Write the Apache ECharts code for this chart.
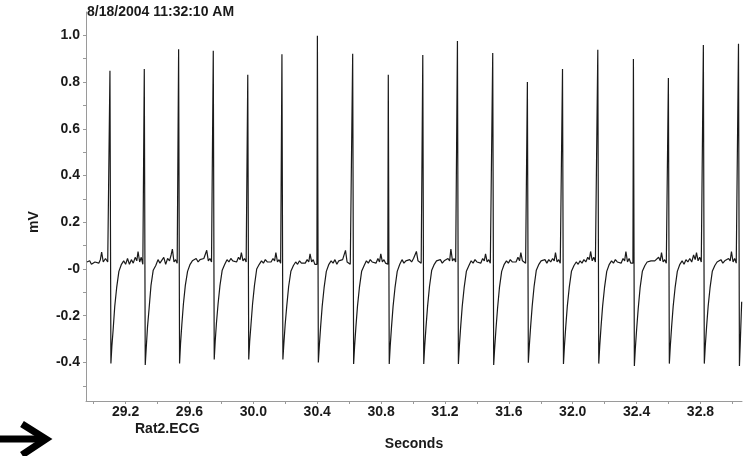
<!DOCTYPE html>
<html>
<head>
<meta charset="utf-8">
<script src="https://cdn.jsdelivr.net/npm/echarts@6/dist/echarts.min.js"></script>
<style>
  html, body { margin: 0; padding: 0; background: #ffffff; }
  #chart { width: 749px; height: 456px; }
</style>
</head>
<body>
<div id="chart"></div>
<script>
// trace before the first R wave: [seconds, mV]
const leadIn = [
  [28.958, 0.03], [28.966, 0.025], [28.975, 0.035], [28.986, 0.02], [28.996, 0.015],
  [29.008, 0.03], [29.02, 0.035], [29.032, 0.025], [29.042, 0.04], [29.05, 0.072],
  [29.06, 0.03], [29.074, 0.045], [29.088, 0.03]
]

// R-wave times (s)
const rPeakTimes = [
  29.102, 29.317, 29.532, 29.749, 29.965, 30.179, 30.401, 30.622, 30.845, 31.061,
  31.278, 31.499, 31.716, 31.936, 32.157, 32.380, 32.599, 32.818, 33.038
]

// sample positions inside one beat, seconds after the R wave
const beatOffsets = [
  -0.003, 0, 0.006, 0.012, 0.020, 0.030, 0.042, 0.056, 0.072, 0.086, 0.098,
  0.110, 0.122, 0.134, 0.146, 0.158, 0.168, 0.176, 0.186, 0.196, 0.206
]

// mV for each beat at those positions (pre, R, S, recovery..., baseline...)
const beatMv = [
  [0.025, 0.849, -0.404, -0.33, -0.26, -0.16, -0.08, -0.01, 0.02, 0.035, 0.02, 0.045, 0.02, 0.04, 0.025, 0.05, 0.035, 0.075, 0.03, 0.05, 0.02],
  [0.02, 0.856, -0.411, -0.34, -0.25, -0.17, -0.07, -0.005, 0.015, 0.04, 0.025, 0.03, 0.05, 0.02, 0.045, 0.035, 0.06, 0.085, 0.03, 0.04, 0.025],
  [0.03, 0.941, -0.404, -0.32, -0.24, -0.15, -0.07, -0.01, 0.02, 0.035, 0.03, 0.045, 0.03, 0.04, 0.035, 0.045, 0.04, 0.08, 0.035, 0.045, 0.03],
  [0.025, 0.934, -0.387, -0.31, -0.23, -0.15, -0.07, -0.005, 0.02, 0.04, 0.03, 0.045, 0.035, 0.04, 0.03, 0.05, 0.04, 0.07, 0.035, 0.045, 0.03],
  [0.03, 0.831, -0.387, -0.31, -0.24, -0.15, -0.07, 0.0, 0.02, 0.035, 0.025, 0.04, 0.03, 0.035, 0.03, 0.045, 0.035, 0.07, 0.03, 0.04, 0.025],
  [0.025, 0.919, -0.387, -0.32, -0.24, -0.16, -0.075, -0.01, 0.015, 0.03, 0.02, 0.035, 0.025, 0.03, 0.025, 0.04, 0.03, 0.065, 0.03, 0.04, 0.02],
  [0.02, 0.998, -0.400, -0.33, -0.25, -0.16, -0.08, -0.01, 0.02, 0.035, 0.025, 0.04, 0.02, 0.035, 0.03, 0.04, 0.035, 0.08, 0.03, 0.035, 0.02],
  [0.025, 0.921, -0.407, -0.33, -0.25, -0.16, -0.08, -0.01, 0.015, 0.035, 0.025, 0.04, 0.03, 0.035, 0.025, 0.045, 0.03, 0.065, 0.03, 0.04, 0.025],
  [0.02, 0.831, -0.407, -0.33, -0.25, -0.16, -0.08, -0.01, 0.02, 0.04, 0.025, 0.035, 0.03, 0.04, 0.03, 0.045, 0.04, 0.075, 0.035, 0.04, 0.025],
  [0.025, 0.916, -0.407, -0.33, -0.25, -0.16, -0.075, -0.005, 0.02, 0.035, 0.03, 0.04, 0.025, 0.035, 0.03, 0.045, 0.035, 0.085, 0.035, 0.045, 0.03],
  [0.03, 0.976, -0.407, -0.33, -0.25, -0.16, -0.08, -0.01, 0.015, 0.035, 0.025, 0.04, 0.03, 0.035, 0.025, 0.045, 0.035, 0.065, 0.03, 0.04, 0.025],
  [0.025, 0.925, -0.411, -0.34, -0.26, -0.17, -0.08, -0.01, 0.02, 0.035, 0.025, 0.04, 0.03, 0.035, 0.03, 0.05, 0.035, 0.07, 0.035, 0.04, 0.025],
  [0.02, 0.800, -0.401, -0.33, -0.25, -0.16, -0.075, -0.005, 0.02, 0.035, 0.03, 0.04, 0.025, 0.04, 0.03, 0.045, 0.035, 0.07, 0.03, 0.04, 0.025],
  [0.025, 0.856, -0.407, -0.33, -0.25, -0.16, -0.08, -0.01, 0.015, 0.03, 0.02, 0.035, 0.025, 0.04, 0.03, 0.05, 0.04, 0.075, 0.035, 0.05, 0.03],
  [0.03, 0.938, -0.405, -0.33, -0.25, -0.16, -0.08, -0.01, 0.02, 0.035, 0.025, 0.04, 0.03, 0.035, 0.025, 0.045, 0.035, 0.075, 0.03, 0.045, 0.025],
  [0.025, 0.899, -0.415, -0.34, -0.26, -0.17, -0.08, -0.01, 0.015, 0.03, 0.025, 0.035, 0.03, 0.035, 0.03, 0.05, 0.035, 0.07, 0.03, 0.04, 0.025],
  [0.02, 0.818, -0.405, -0.33, -0.25, -0.16, -0.08, -0.01, 0.02, 0.035, 0.02, 0.04, 0.03, 0.045, 0.03, 0.06, 0.04, 0.07, 0.035, 0.05, 0.03],
  [0.025, 0.959, -0.405, -0.33, -0.25, -0.16, -0.08, -0.01, 0.015, 0.03, 0.025, 0.04, 0.025, 0.035, 0.03, 0.045, 0.035, 0.075, 0.03, 0.045, 0.025],
  [0.03, 0.964, -0.415, -0.30, -0.14]   // last beat, cut off by the window
]

// axis ticks and labels
const xTickValues = [29.0, 29.2, 29.4, 29.6, 29.8, 30.0, 30.2, 30.4, 30.6, 30.8, 31.0, 31.2, 31.4, 31.6, 31.8, 32.0, 32.2, 32.4, 32.6, 32.8, 33.0]
const xLabelValues = [29.2, 29.6, 30.0, 30.4, 30.8, 31.2, 31.6, 32.0, 32.4, 32.8]
const yTickValues = [-0.5, -0.4, -0.3, -0.2, -0.1, 0, 0.1, 0.2, 0.3, 0.4, 0.5, 0.6, 0.7, 0.8, 0.9, 1.0]
const yLabelValues = [-0.4, -0.2, 0, 0.2, 0.4, 0.6, 0.8, 1.0]
const yTickLabels = ['-0.4', '-0.2', '-0', '0.2', '0.4', '0.6', '0.8', '1.0']

const FONT = '"Liberation Sans", Arial, sans-serif'

const trace = leadIn.slice()
rPeakTimes.forEach(function (t, i) {
  beatMv[i].forEach(function (v, k) {
    trace.push([+(t + beatOffsets[k]).toFixed(4), v])
  })
})

const chart = echarts.init(document.getElementById('chart'))
chart.setOption({
  animation: false,
  backgroundColor: '#ffffff',
  grid: { left: 86, right: 7, top: 12, bottom: 55 },
  xAxis: {
    type: 'value',
    min: 28.952,
    max: 33.06,
    axisLine: { show: true, onZero: false, lineStyle: { color: '#9a9a9a', width: 1 } },
    axisTick: { show: true, customValues: xTickValues, length: 3, lineStyle: { color: '#9a9a9a' } },
    axisLabel: {
      customValues: xLabelValues,
      formatter: function (v) { return v.toFixed(1) },
      margin: 4,
      color: '#1a1a1a',
      fontSize: 14,
      fontWeight: 'bold',
      fontFamily: FONT
    },
    splitLine: { show: false }
  },
  yAxis: {
    type: 'value',
    min: -0.565,
    max: 1.1,
    axisLine: { show: true, onZero: false, lineStyle: { color: '#9a9a9a', width: 1 } },
    axisTick: { show: true, customValues: yTickValues, length: 3, lineStyle: { color: '#9a9a9a' } },
    axisLabel: {
      customValues: yLabelValues,
      formatter: function (v) {
        for (let i = 0; i < yLabelValues.length; i++) {
          if (Math.abs(yLabelValues[i] - v) < 1e-6) return yTickLabels[i]
        }
        return ''
      },
      margin: 6,
      color: '#1a1a1a',
      fontSize: 14,
      fontWeight: 'bold',
      fontFamily: FONT
    },
    splitLine: { show: false }
  },
  series: [{
    type: 'line',
    data: trace,
    showSymbol: false,
    symbol: 'none',
    sampling: null,
    lineStyle: { color: '#1a1a1a', width: 1.2 }
  }],
  graphic: [
    { type: 'text', left: 87, top: 5, style: { text: '8/18/2004 11:32:10 AM', fill: '#1a1a1a', font: 'bold 14px ' + FONT } },
    { type: 'text', x: 34, y: 222, rotation: Math.PI / 2, style: { text: 'mV', fill: '#1a1a1a', font: 'bold 14px ' + FONT, textAlign: 'center', textVerticalAlign: 'middle' } },
    { type: 'text', x: 414, y: 444, style: { text: 'Seconds', fill: '#1a1a1a', font: 'bold 14px ' + FONT, textAlign: 'center', textVerticalAlign: 'middle' } },
    { type: 'text', x: 135, y: 429, style: { text: 'Rat2.ECG', fill: '#1a1a1a', font: 'bold 14px ' + FONT, textAlign: 'left', textVerticalAlign: 'middle' } },
    { type: 'polyline', shape: { points: [[0, 439], [44, 439]] }, style: { stroke: '#000', lineWidth: 7, fill: null } },
    { type: 'polyline', shape: { points: [[22, 424], [46, 439], [22, 455]] }, style: { stroke: '#000', lineWidth: 7, fill: null, lineJoin: 'miter' } }
  ]
})
</script>
</body>
</html>
